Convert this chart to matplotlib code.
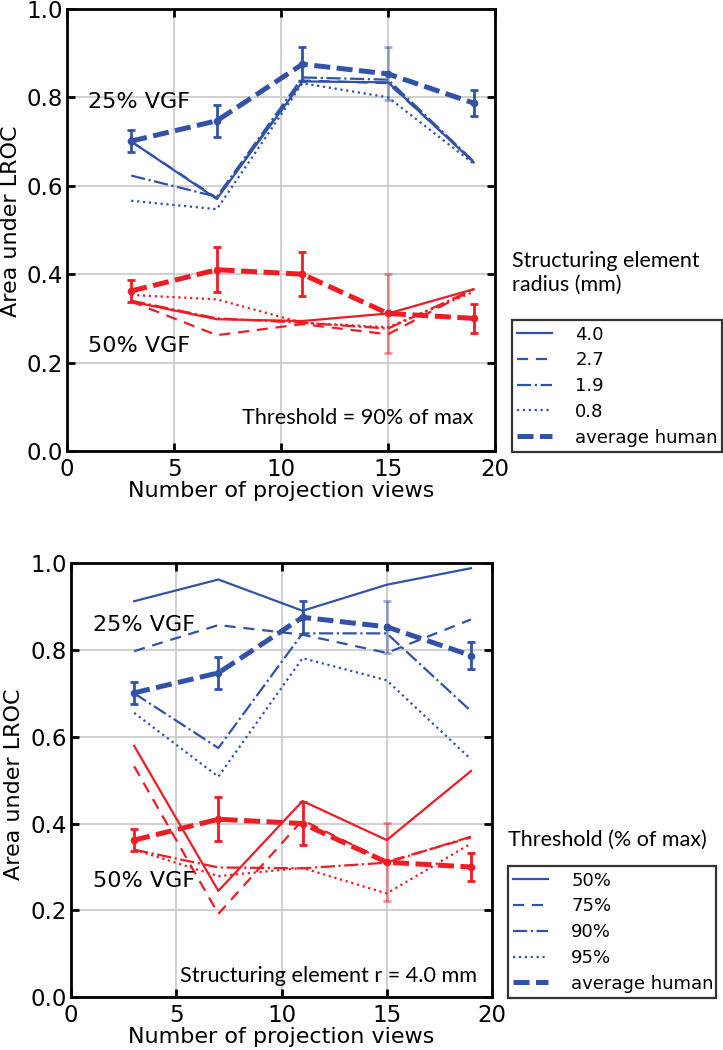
import numpy as np
import matplotlib
matplotlib.use("Agg")
import matplotlib.pyplot as plt
from matplotlib.lines import Line2D

# ----------------------------------------------------------------------
VIEWS = [3, 7, 11, 15, 19]

# average human observer (same in both panels)
HUMAN_25 = [0.701, 0.747, 0.875, 0.853, 0.787]
HUMAN_25_ERR = [0.025, 0.036, 0.038, 0.060, 0.030]
HUMAN_50 = [0.362, 0.410, 0.400, 0.311, 0.300]
HUMAN_50_ERR = [0.025, 0.051, 0.049, 0.090, 0.032]

# top panel: structuring element radius (mm), threshold = 90% of max
RADII = ["4.0", "2.7", "1.9", "0.8"]
RAD_25 = {"4.0": [0.700, 0.570, 0.836, 0.834, 0.653],
          "2.7": [0.700, 0.572, 0.838, 0.832, 0.655],
          "1.9": [0.623, 0.575, 0.845, 0.840, 0.655],
          "0.8": [0.566, 0.547, 0.832, 0.800, 0.650]}
RAD_50 = {"4.0": [0.338, 0.298, 0.294, 0.311, 0.366],
          "2.7": [0.338, 0.262, 0.287, 0.264, 0.366],
          "1.9": [0.340, 0.300, 0.290, 0.277, 0.366],
          "0.8": [0.353, 0.343, 0.290, 0.280, 0.360]}

# bottom panel: threshold (% of max), r = 4.0 mm
THRESH = ["50%", "75%", "90%", "95%"]
THR_25 = {"50%": [0.912, 0.962, 0.890, 0.950, 0.988],
          "75%": [0.797, 0.857, 0.835, 0.793, 0.870],
          "90%": [0.700, 0.574, 0.838, 0.838, 0.659],
          "95%": [0.655, 0.508, 0.781, 0.730, 0.548]}
THR_50 = {"50%": [0.579, 0.245, 0.452, 0.362, 0.521],
          "75%": [0.532, 0.192, 0.408, 0.312, 0.368],
          "90%": [0.340, 0.299, 0.297, 0.310, 0.370],
          "95%": [0.340, 0.279, 0.298, 0.239, 0.354]}

BLUE = "#3152a8"
RED = "#ee1c24"
STYLES = [dict(ls="-"), dict(ls=(0, (5, 3.5))), dict(ls="-."), dict(ls=":")]
HUMAN_STYLE = dict(ls=(0, (3.2, 1.3)), lw=3.6)
MYRIAD = "Lato"


def draw_human(ax, y, err, color):
    ax.plot(VIEWS, y, color=color, **HUMAN_STYLE)
    ax.plot(VIEWS, y, "o", color=color, ms=4.5)
    for x, v, e in zip(VIEWS, y, err):
        ax.errorbar([x], [v], yerr=[e], fmt="none", ecolor=color,
                    elinewidth=2, capsize=3, capthick=2,
                    alpha=0.45 if x == 15 else 1.0)


def style_axes(ax, ylab_x, ylab_y):
    ax.set_xlim(0, 20)
    ax.set_ylim(0, 1)
    ax.set_xticks([0, 5, 10, 15, 20])
    ax.set_yticks([0.0, 0.2, 0.4, 0.6, 0.8, 1.0])
    ax.set_yticklabels(["0.0", "0.2", "0.4", "0.6", "0.8", "1.0"])
    ax.grid(True, color="#c8c8c8", lw=1.2)
    ax.set_axisbelow(True)
    ax.tick_params(direction="in", length=6, width=2, labelsize=16.5,
                   top=True, right=True)
    ax.tick_params(axis="y", pad=3)
    ax.tick_params(axis="x", pad=5)
    for s in ax.spines.values():
        s.set_linewidth(2)
    ax.set_xlabel("Number of projection views", fontsize=16)
    ax.set_ylabel("Area under LROC", fontsize=16)
    ax.yaxis.set_label_coords(ylab_x, ylab_y)
    ax.xaxis.set_label_coords(0.5, -0.068)


def panel(ax, keys, d25, d50, ylab_x, ylab_y):
    for k, st in zip(keys, STYLES):
        ax.plot(VIEWS, d25[k], color=BLUE, lw=1.6, **st)
        ax.plot(VIEWS, d50[k], color=RED, lw=1.6, **st)
    draw_human(ax, HUMAN_25, HUMAN_25_ERR, BLUE)
    draw_human(ax, HUMAN_50, HUMAN_50_ERR, RED)
    style_axes(ax, ylab_x, ylab_y)


def legend(fig, labels, rect):
    handles = [Line2D([], [], color=BLUE, lw=1.6, **st) for st in STYLES]
    handles.append(Line2D([], [], color=BLUE, **HUMAN_STYLE))
    leg = fig.legend(handles, labels + ["average human"], loc="lower left",
                     bbox_to_anchor=rect, mode="expand", fontsize=13,
                     handlelength=1.9, handletextpad=1.3, labelspacing=0.43,
                     borderpad=0.3, fancybox=False, borderaxespad=0)
    leg.get_frame().set_edgecolor("black")
    leg.get_frame().set_linewidth(1.6)
    return leg


fig = plt.figure(figsize=(7.23, 10.5), dpi=100)
ax1 = fig.add_axes([0.0927, 0.5705, 0.592, 0.421])
ax2 = fig.add_axes([0.0982, 0.0502, 0.5823, 0.4136])

panel(ax1, RADII, RAD_25, RAD_50, -0.108, 0.52)
ax1.text(1.0, 0.79, "25% VGF", fontsize=16, va="center")
ax1.text(1.0, 0.238, "50% VGF", fontsize=16, va="center")
ax1.text(19.0, 0.075, "Threshold = 90% of max", fontsize=15.6,
         family=MYRIAD, ha="right", va="center")

panel(ax2, THRESH, THR_25, THR_50, -0.112, 0.49)
ax2.text(1.05, 0.858, "25% VGF", fontsize=16, va="center")
ax2.text(1.05, 0.268, "50% VGF", fontsize=16, va="center")
ax2.text(19.3, 0.049, "Structuring element r = 4.0 mm", fontsize=15.6,
         family=MYRIAD, ha="right", va="center")

legend(fig, RADII, (512 / 723, 1 - 452 / 1050, 210 / 723, 0.13))
fig.text(512 / 723, 1 - 273 / 1050, "Structuring element\nradius (mm)",
         fontsize=15.5, family=MYRIAD, va="center", ha="left", linespacing=1.2)
legend(fig, THRESH, (508 / 723, 1 - 998 / 1050, 208 / 723, 0.13))
fig.text(508 / 723, 1 - 840 / 1050, "Threshold (% of max)",
         fontsize=15.5, family=MYRIAD, va="center", ha="left")

fig.savefig("out.png", dpi=100)
